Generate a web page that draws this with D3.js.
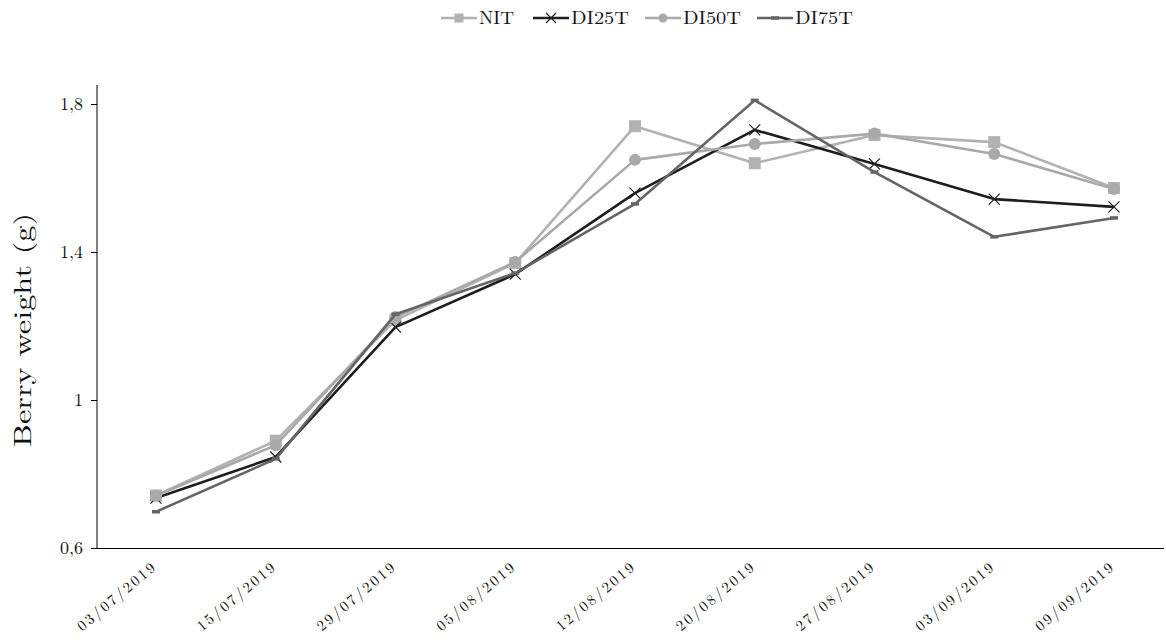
<!DOCTYPE html>
<html><head><meta charset="utf-8">
<script src="https://cdn.jsdelivr.net/npm/d3@7"></script>
<style>body{margin:0;background:#fff;} svg{display:block;}</style>
</head><body>
<script>
const categories = ["03/07/2019","15/07/2019","29/07/2019","05/08/2019","12/08/2019","20/08/2019","27/08/2019","03/09/2019","09/09/2019"];
const NIT   = [0.742, 0.890, 1.216, 1.370, 1.740, 1.640, 1.716, 1.697, 1.573];
const DI25T = [0.735, 0.846, 1.197, 1.340, 1.559, 1.730, 1.638, 1.543, 1.522];
const DI50T = [0.741, 0.878, 1.224, 1.373, 1.649, 1.692, 1.720, 1.665, 1.570];
const DI75T = [0.698, 0.841, 1.232, 1.343, 1.530, 1.810, 1.616, 1.441, 1.492];
const yTicks = [0.6, 1.0, 1.4, 1.8];
const seriesNames = ["NIT","DI25T","DI50T","DI75T"];

const W = 1166, H = 643;
const font = "'Latin Modern Roman','CMU Serif','Liberation Serif',serif";
const svg = d3.select("body").append("svg").attr("width", W).attr("height", H)
  .style("font-family", font);

const x = d3.scalePoint().domain(categories).range([156, 1114]);
const y = d3.scaleLinear().domain([0.6, 1.8]).range([548, 104]);

const series = [
  {name:seriesNames[0], values:NIT, color:"#b2b2b2", marker:"square", width:2.6},
  {name:seriesNames[1], values:DI25T, color:"#1e1e1e", marker:"cross", width:2.6},
  {name:seriesNames[2], values:DI50T, color:"#a9a9a9", marker:"circle", width:2.6},
  {name:seriesNames[3], values:DI75T, color:"#656565", marker:"dash", width:2.6}
];

// Axes
const yAxis = svg.append("g").attr("transform","translate(97,0)")
  .call(d3.axisLeft(y).tickValues(yTicks).tickSize(6).tickPadding(8)
    .tickFormat(d => d3.format(".1~f")(d).replace(".", ",")));
yAxis.select(".domain").attr("d", "M-0,85V548").attr("stroke","#000");
yAxis.selectAll("text").style("font-size","18px").style("font-family",font).attr("fill","#111");
yAxis.selectAll("line").attr("stroke","#000");

svg.append("line").attr("x1",91).attr("x2",1164).attr("y1",548.5).attr("y2",548.5)
  .attr("stroke","#000").attr("stroke-width",1.2);

// x labels
svg.append("g").selectAll("text").data(categories).join("text")
  .attr("transform", d => `translate(${x(d)+2},${568}) rotate(-40)`)
  .attr("text-anchor","end")
  .style("font-size","15px").style("letter-spacing","2.4px")
  .attr("fill","#111")
  .text(d => d);

// y title
svg.append("text").attr("transform","translate(31,330) rotate(-90)")
  .attr("text-anchor","middle").style("font-size","24px").attr("fill","#111")
  .attr("textLength", 234).attr("lengthAdjust","spacingAndGlyphs")
  .text("Berry weight (g)");

// lines
const line = d3.line().x((d,i)=>x(categories[i])).y(d=>y(d));
function drawMarker(g, type, color, cx, cy, s) {
  if (type === "square") {
    g.append("rect").attr("x",cx-s/2).attr("y",cy-s/2).attr("width",s).attr("height",s).attr("fill",color);
  } else if (type === "circle") {
    g.append("circle").attr("cx",cx).attr("cy",cy).attr("r",s/2).attr("fill",color);
  } else if (type === "cross") {
    const h = s/2;
    g.append("path").attr("d",`M${cx-h},${cy-h}L${cx+h},${cy+h}M${cx-h},${cy+h}L${cx+h},${cy-h}`)
      .attr("stroke",color).attr("stroke-width",1.2).attr("fill","none");
  } else if (type === "dash") {
    g.append("line").attr("x1",cx-4).attr("x2",cx+4).attr("y1",cy).attr("y2",cy)
      .attr("stroke",color).attr("stroke-width",3.5);
  }
}
series.forEach(s => {
  const g = svg.append("g");
  g.append("path").datum(s.values).attr("d", line).attr("fill","none")
    .attr("stroke", s.color).attr("stroke-width", s.width).attr("stroke-linejoin","round");
  s.values.forEach((v,i) => drawMarker(g, s.marker, s.color, x(categories[i]), y(v),
    s.marker==="square"?12: s.marker==="circle"?12:11));
});

// legend
const legX = [441, 533, 645, 757];
series.forEach((s,i) => {
  const g = svg.append("g").attr("transform",`translate(${legX[i]},18)`);
  g.append("line").attr("x1",0).attr("x2",36).attr("y1",0).attr("y2",0)
    .attr("stroke",s.color).attr("stroke-width",2.6);
  drawMarker(g, s.marker, s.color, 18, 0, s.marker==="square"?9: s.marker==="circle"?9:10);
  g.append("text").attr("x",38).attr("y",6).style("font-size","18px").attr("fill","#111")
    .attr("textLength", s.name.length===3?35:58).attr("lengthAdjust","spacingAndGlyphs").text(s.name);
});
</script>
</body></html>
